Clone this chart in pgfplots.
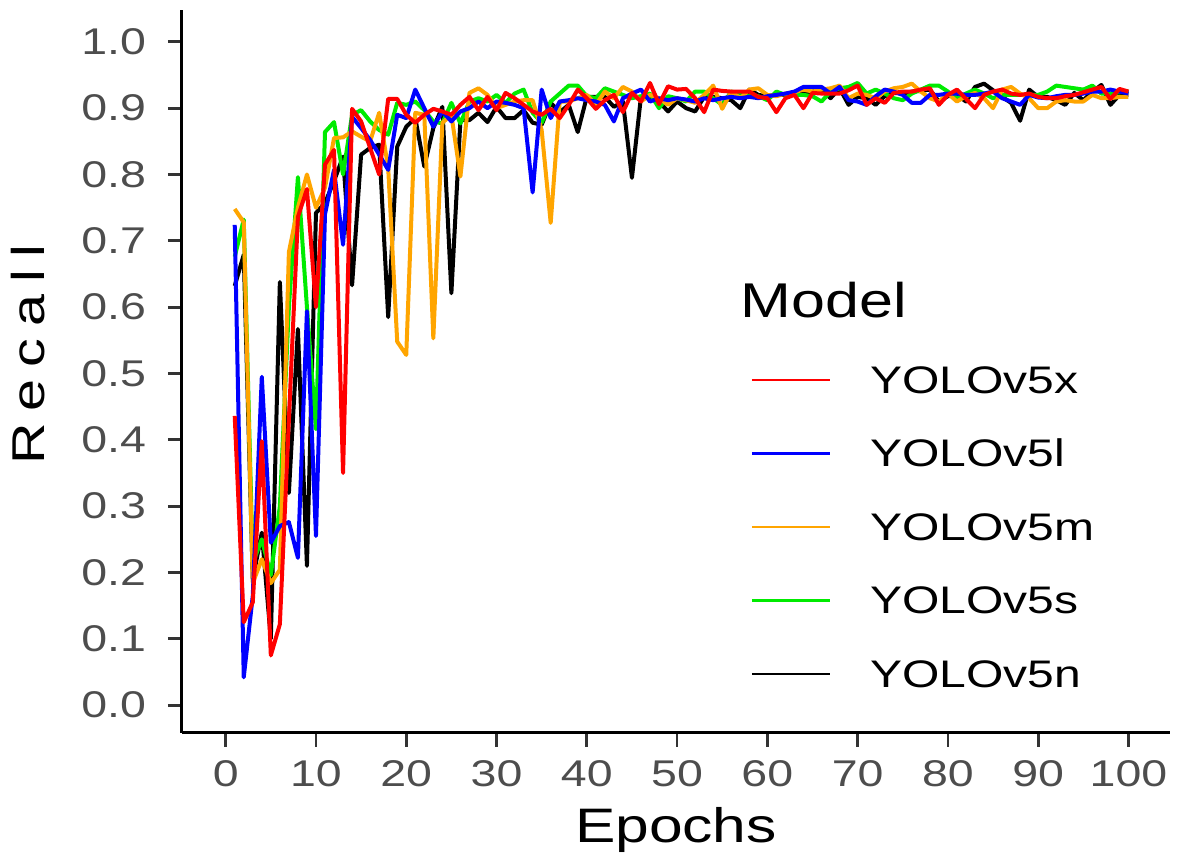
\documentclass[border=0pt]{standalone}
\usepackage{fontspec}
\setmainfont{Liberation Sans}[FakeStretch=1.25]
\usepackage{pgfplots}
\usepackage{pgfplotstable}
\pgfplotsset{compat=1.18}

\definecolor{colx}{rgb}{1,0,0}
\definecolor{coll}{rgb}{0,0,1}
\definecolor{colm}{rgb}{1,0.647,0}
\definecolor{cols}{RGB}{0,235,0}
\definecolor{coln}{rgb}{0,0,0}
\definecolor{tickgray}{RGB}{51,51,51}
\definecolor{labgray}{RGB}{77,77,77}

% recall per epoch, one column per model
\pgfplotstableread{
epoch x l m s n
1 0.436 0.724 0.748 0.676 0.632
2 0.125 0.042 0.728 0.732 0.679
3 0.155 0.165 0.184 0.214 0.190
4 0.398 0.495 0.220 0.250 0.260
5 0.075 0.245 0.184 0.196 0.100
6 0.122 0.270 0.204 0.300 0.638
7 0.430 0.276 0.683 0.600 0.320
8 0.736 0.222 0.750 0.796 0.567
9 0.778 0.594 0.800 0.600 0.210
10 0.600 0.255 0.750 0.416 0.742
11 0.815 0.740 0.780 0.864 0.757
12 0.837 0.807 0.855 0.879 0.790
13 0.350 0.694 0.856 0.800 0.827
14 0.899 0.887 0.865 0.890 0.633
15 0.880 0.870 0.857 0.897 0.830
16 0.840 0.852 0.850 0.880 0.840
17 0.800 0.830 0.893 0.867 0.845
18 0.914 0.807 0.810 0.860 0.585
19 0.914 0.890 0.548 0.908 0.842
20 0.890 0.885 0.528 0.905 0.872
21 0.878 0.928 0.893 0.910 0.885
22 0.890 0.900 0.890 0.897 0.812
23 0.899 0.872 0.553 0.880 0.870
24 0.895 0.895 0.878 0.877 0.902
25 0.890 0.880 0.890 0.908 0.621
26 0.905 0.895 0.797 0.877 0.882
27 0.917 0.900 0.923 0.910 0.882
28 0.897 0.910 0.930 0.915 0.893
29 0.917 0.900 0.920 0.910 0.879
30 0.897 0.910 0.900 0.920 0.902
31 0.923 0.908 0.905 0.908 0.885
32 0.915 0.905 0.910 0.922 0.885
33 0.905 0.900 0.912 0.928 0.897
34 0.895 0.773 0.912 0.893 0.878
35 0.890 0.928 0.867 0.878 0.875
36 0.899 0.885 0.727 0.910 0.908
37 0.885 0.910 0.910 0.922 0.894
38 0.905 0.912 0.910 0.934 0.905
39 0.928 0.915 0.915 0.934 0.864
40 0.915 0.912 0.920 0.918 0.917
41 0.899 0.910 0.905 0.915 0.917
42 0.912 0.905 0.925 0.930 0.917
43 0.920 0.880 0.915 0.925 0.902
44 0.894 0.915 0.932 0.920 0.910
45 0.923 0.922 0.925 0.915 0.795
46 0.910 0.928 0.910 0.918 0.917
47 0.938 0.910 0.920 0.922 0.917
48 0.906 0.915 0.915 0.900 0.910
49 0.933 0.912 0.905 0.918 0.895
50 0.928 0.915 0.915 0.915 0.910
51 0.929 0.913 0.912 0.910 0.900
52 0.915 0.910 0.908 0.925 0.895
53 0.894 0.915 0.920 0.925 0.917
54 0.928 0.912 0.934 0.915 0.917
55 0.926 0.915 0.899 0.905 0.915
56 0.925 0.917 0.925 0.925 0.912
57 0.925 0.915 0.915 0.922 0.900
58 0.925 0.917 0.928 0.918 0.928
59 0.917 0.915 0.930 0.918 0.920
60 0.915 0.918 0.920 0.912 0.918
61 0.894 0.920 0.918 0.925 0.920
62 0.915 0.922 0.922 0.920 0.920
63 0.920 0.925 0.924 0.920 0.922
64 0.900 0.932 0.928 0.920 0.922
65 0.923 0.932 0.925 0.918 0.925
66 0.922 0.932 0.928 0.910 0.928
67 0.922 0.922 0.930 0.925 0.915
68 0.922 0.932 0.934 0.930 0.930
69 0.927 0.912 0.915 0.932 0.905
70 0.934 0.910 0.922 0.938 0.917
71 0.905 0.905 0.920 0.922 0.915
72 0.915 0.918 0.915 0.928 0.905
73 0.908 0.928 0.925 0.922 0.918
74 0.923 0.925 0.930 0.915 0.923
75 0.925 0.920 0.932 0.912 0.922
76 0.925 0.908 0.937 0.922 0.925
77 0.928 0.908 0.925 0.928 0.926
78 0.930 0.920 0.915 0.934 0.928
79 0.905 0.920 0.910 0.934 0.910
80 0.920 0.922 0.922 0.925 0.918
81 0.928 0.922 0.910 0.915 0.920
82 0.914 0.920 0.918 0.922 0.910
83 0.900 0.920 0.923 0.928 0.932
84 0.920 0.922 0.915 0.922 0.937
85 0.925 0.925 0.900 0.915 0.927
86 0.928 0.915 0.928 0.920 0.917
87 0.922 0.910 0.932 0.920 0.908
88 0.920 0.905 0.922 0.920 0.881
89 0.922 0.920 0.915 0.920 0.928
90 0.917 0.916 0.900 0.920 0.917
91 0.915 0.915 0.900 0.925 0.917
92 0.915 0.918 0.910 0.934 0.912
93 0.918 0.920 0.912 0.932 0.905
94 0.920 0.920 0.910 0.930 0.923
95 0.924 0.922 0.910 0.928 0.912
96 0.928 0.925 0.920 0.934 0.925
97 0.932 0.925 0.915 0.922 0.935
98 0.914 0.928 0.915 0.922 0.905
99 0.929 0.925 0.917 0.924 0.920
100 0.925 0.922 0.917 0.926 0.920
}\recall

\begin{document}
\begin{tikzpicture}
\begin{axis}[
    at={(0,0)}, anchor=south west,
    scale only axis,
    width=494pt, height=361.5pt,
    xmin=-4.84, xmax=104.6,
    ymin=-0.042, ymax=1.048,
    axis lines*=left,
    axis line style={line width=1.5pt},
    xtick={0,10,20,30,40,50,60,70,80,90,100},
    ytick={0,0.1,0.2,0.3,0.4,0.5,0.6,0.7,0.8,0.9,1.0},
    tick align=outside,
    major tick length=7pt,
    tick style={line width=1.4pt, color=tickgray},
    ticklabel style={font=\fontsize{18.6}{20}\selectfont, text=labgray},
    xticklabel style={yshift=-3pt},
    /pgf/number format/assume math mode=true,
    yticklabel style={xshift=-7.5pt, /pgf/number format/.cd, fixed, fixed zerofill, precision=1},
    xlabel={Epochs},
    xlabel style={at={(axis description cs:0.5,-0.152)}, anchor=base, inner sep=0pt,
        font=\fontsize{24.2}{27}\selectfont},
    ylabel={\addfontfeatures{LetterSpace=26}Recall},
    ylabel style={at={(axis description cs:-0.1387,0.523)}, anchor=base, inner sep=0pt,
        font=\fontsize{23}{26}\selectfont},
    legend cell align=left,
    legend style={at={(rel axis cs:0.575,0.5076)}, anchor=north west,
        draw=none, fill=none, inner sep=0pt,
        row sep=23.25pt, column sep=19.5pt,
        font=\fontsize{19.2}{21}\selectfont,
        nodes={inner sep=0pt, text height=13.5pt, text depth=0pt}},
    legend image code/.code={\draw[#1] (0pt,0pt) -- (39pt,0pt);},
    every axis plot/.append style={line width=2pt, line join=round},
]
\addplot[coln, forget plot] table[x=epoch, y=n] {\recall};
\addplot[cols, forget plot] table[x=epoch, y=s] {\recall};
\addplot[colm, forget plot] table[x=epoch, y=m] {\recall};
\addplot[coll, forget plot] table[x=epoch, y=l] {\recall};
\addplot[colx, forget plot] table[x=epoch, y=x] {\recall};

\addlegendimage{colx, line width=1.3pt}
\addlegendentry{YOLOv5x}
\addlegendimage{coll, line width=1.3pt}
\addlegendentry{YOLOv5l}
\addlegendimage{colm, line width=1.3pt}
\addlegendentry{YOLOv5m}
\addlegendimage{cols, line width=1.3pt}
\addlegendentry{YOLOv5s}
\addlegendimage{coln, line width=1.3pt}
\addlegendentry{YOLOv5n}

\node[anchor=base west, inner sep=0pt, font=\fontsize{24.4}{28}\selectfont]
    at (rel axis cs:0.565,0.574) {Model};
\end{axis}
\pgfresetboundingbox
\path (-91pt,-62pt) rectangle (499pt,366.5pt);
\end{tikzpicture}
\end{document}
